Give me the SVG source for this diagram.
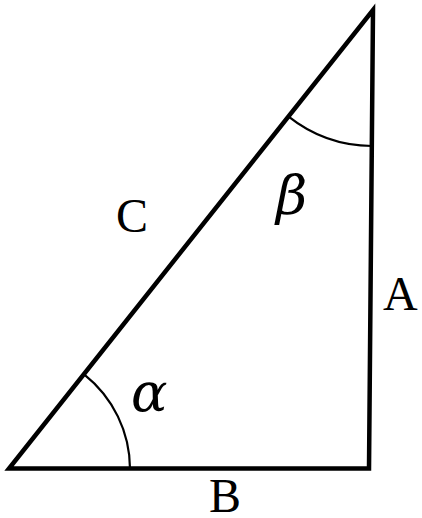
<svg xmlns="http://www.w3.org/2000/svg" width="422" height="518" viewBox="0 0 422 518">
<style>
.side{stroke:#000;stroke-width:4.5;fill:none;stroke-linecap:square}
.arc{stroke:#000;stroke-width:2.2;fill:none}
.lbl{font-family:"Liberation Serif","Times New Roman",serif;font-size:48px;fill:#000}
.gr{font-family:"DejaVu Serif","Liberation Serif",serif;font-size:54px;font-style:italic;fill:#000}
</style>
<rect width="422" height="518" fill="#fff"/>
<g id="connectors">
<path class="side" d="M9,468.5 L369,468.5 L373,10 Z" stroke-linejoin="miter"/>
</g>
<g id="angle-alpha">
<path class="arc" d="M84.4,374.6 A121,121 0 0 1 130,468.5"/>
<text class="gr" x="131" y="411">α</text>
</g>
<g id="angle-beta">
<path class="arc" d="M288.3,116.4 A136,136 0 0 0 372,146"/>
<text class="gr" x="276" y="214">β</text>
</g>
<g id="label-C"><text class="lbl" x="116" y="232">C</text></g>
<g id="label-A"><text class="lbl" x="383" y="310">A</text></g>
<g id="label-B"><text class="lbl" x="209" y="512">B</text></g>
</svg>
